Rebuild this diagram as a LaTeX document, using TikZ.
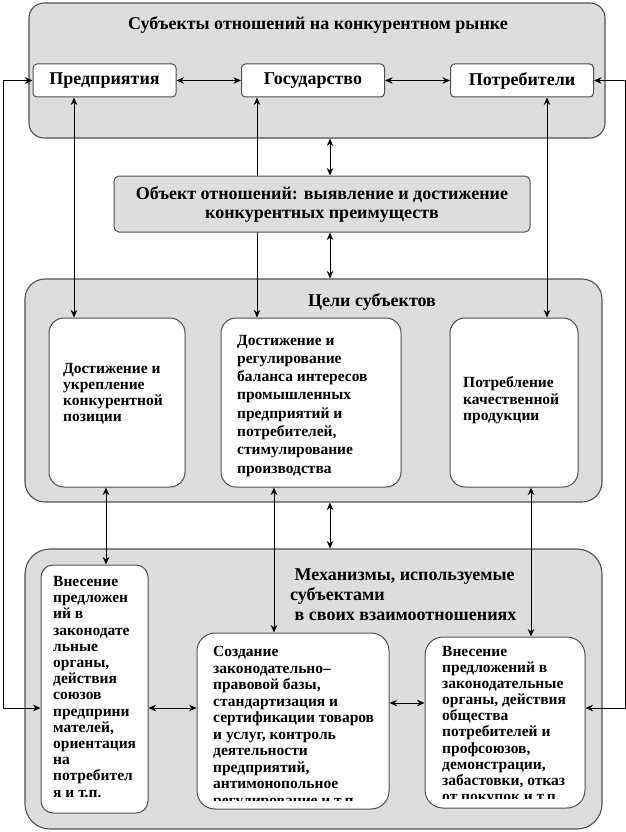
\documentclass[tikz,border=0pt]{standalone}
\usepackage{fontspec}
\setmainfont{Liberation Serif}
\usetikzlibrary{arrows.meta,calc}
\definecolor{boxgray}{RGB}{221,221,221}
\definecolor{edgegray}{RGB}{80,80,80}
\begin{document}
\begin{tikzpicture}[x=1pt,y=-1pt,
  outerbox/.style={draw=edgegray, fill=boxgray, line width=1.1pt, rounded corners=#1, inner sep=0pt},
  subjbox/.style={draw=edgegray, fill=white, line width=1pt, rounded corners=4pt, minimum width=143pt, minimum height=33pt, inner sep=0pt, font=\fontsize{18}{20}\selectfont\bfseries},
  objbox/.style={draw=edgegray, fill=boxgray, line width=1pt, rounded corners=5pt, minimum width=416pt, minimum height=56pt, inner sep=0pt, align=center, font=\fontsize{18}{19}\selectfont\bfseries},
  innerbox/.style={draw=edgegray, fill=white, line width=1pt, rounded corners=#1, inner sep=0pt},
  heading/.style={inner sep=0pt, font=\fontsize{18}{20}\selectfont\bfseries},
  bodytext/.style={inner sep=0pt, anchor=north west, align=left, font=\fontsize{15.5}{#1}\selectfont\bfseries},
  link/.style={{Stealth[length=7.5pt,width=6.5pt]}-{Stealth[length=7.5pt,width=6.5pt]}, line width=0.9pt, black}
]
\useasboundingbox (0,0) rectangle (626,832);

% outer containers
\node[outerbox=15pt, minimum width=576pt, minimum height=135pt] (T) at (317,70.5) {};
\node[outerbox=20pt, minimum width=577pt, minimum height=223pt] (G) at (313.5,390.5) {};
\node[outerbox=25pt, minimum width=577pt, minimum height=280pt] (M) at (313.5,689) {};

% subjects
\node[subjbox] (P1) at (104.5,80.5) {Предприятия};
\node[subjbox] (P2) at (313,80.5) {Государство};
\node[subjbox] (P3) at (522,80.5) {Потребители};

% goals
\node[innerbox=15pt, minimum width=136pt, minimum height=169pt] (G1) at (117,402.5) {};
\node[innerbox=15pt, minimum width=180pt, minimum height=169pt] (G2) at (311,402.5) {};
\node[innerbox=15pt, minimum width=128pt, minimum height=169pt] (G3) at (514,402.5) {};

% mechanisms
\node[innerbox=12pt, minimum width=107pt, minimum height=248pt] (M1) at (94.5,689) {};
\node[innerbox=18pt, minimum width=192pt, minimum height=176pt] (M2) at (293,721) {};
\node[innerbox=18pt, minimum width=160pt, minimum height=171pt] (M3) at (505,722.5) {};

% line passing behind the object box
\draw[link] (257,0 |- P2.south) -- (257,0 |- G2.north);

% object
\node[objbox] (O) at (322,204) {Объект отношений: выявление и достижение\\конкурентных преимуществ};

% headings
\node[heading] (Ttitle) at (318,25) {Субъекты отношений на конкурентном рынке};
\node[heading] (Gtitle) at (372,302) {Цели субъектов};
\node[heading, anchor=north west, align=left, font=\fontsize{18}{20}\selectfont\bfseries] (Mtitle) at (290,566) {\strut\ Механизмы, используемые\\субъектами\\\ в своих взаимоотношениях};

% connectors
\draw[link] (P1) -- (P2);
\draw[link] (P2) -- (P3);
\draw[link] (P1.west) -- (3,0 |- P1.west) -- (3,708) -- (M1.west |- 0,708);
\draw[link] (P3.east) -- (625,0 |- P3.east) -- (625,708) -- (M3.east |- 0,708);
\draw[link] (74,0 |- P1.south) -- (74,0 |- G1.north);
\draw[link] (547,0 |- P3.south) -- (547,0 |- G3.north);
\draw[link] (330,0 |- T.south) -- (330,0 |- O.north);
\draw[link] (330,0 |- O.south) -- (330,0 |- G.north);
\draw[link] (106,0 |- G1.south) -- (106,0 |- M1.north);
\draw[link] (274,0 |- G2.south) -- (274,0 |- M2.north);
\draw[link] (531,0 |- G3.south) -- (531,0 |- M3.north);
\draw[link] (330,0 |- G.south) -- (330,0 |- M.north);
\draw[link] (M1.east |- 0,708) -- (M2.west |- 0,708);
\draw[link] (M2.east |- 0,703) -- (M3.west |- 0,703);

% texts
\node[bodytext=16pt] (G1t) at (63,362) {\strut Достижение и\\укрепление\\конкурентной\\позиции};
\node[bodytext=18.3pt] (G2t) at (237,332) {\strut Достижение и\\регулирование\\баланса интересов\\промышленных\\предприятий и\\потребителей,\\стимулирование\\производства};
\node[bodytext=16.5pt] (G3t) at (463,376) {\strut Потребление\\качественной\\продукции};
\node[bodytext=16.2pt] (M1t) at (53,575) {\strut Внесение\\предложен\\ий в\\законодате\\льные\\органы,\\действия\\союзов\\предприни\\мателей,\\ориентация\\на\\потребител\\я и т.п.};
\begin{scope}
\clip (M2.north west) rectangle ($(M2.south east)+(0,-9)$);
\node[bodytext=16.5pt] (M2t) at (213,645) {\strut Создание\\законодательно–\\правовой базы,\\стандартизация и\\сертификации товаров\\и услуг, контроль\\деятельности\\предприятий,\\антимонопольное\\регулирование и т.п.};
\end{scope}
\begin{scope}
\clip (M3.north west) rectangle ($(M3.south east)+(0,-10)$);
\node[bodytext=16.1pt] (M3t) at (442,645) {\strut Внесение\\предложений в\\законодательные\\органы, действия\\общества\\потребителей и\\профсоюзов,\\демонстрации,\\забастовки, отказ\\от покупок и т.п.};
\end{scope}
\end{tikzpicture}
\end{document}
